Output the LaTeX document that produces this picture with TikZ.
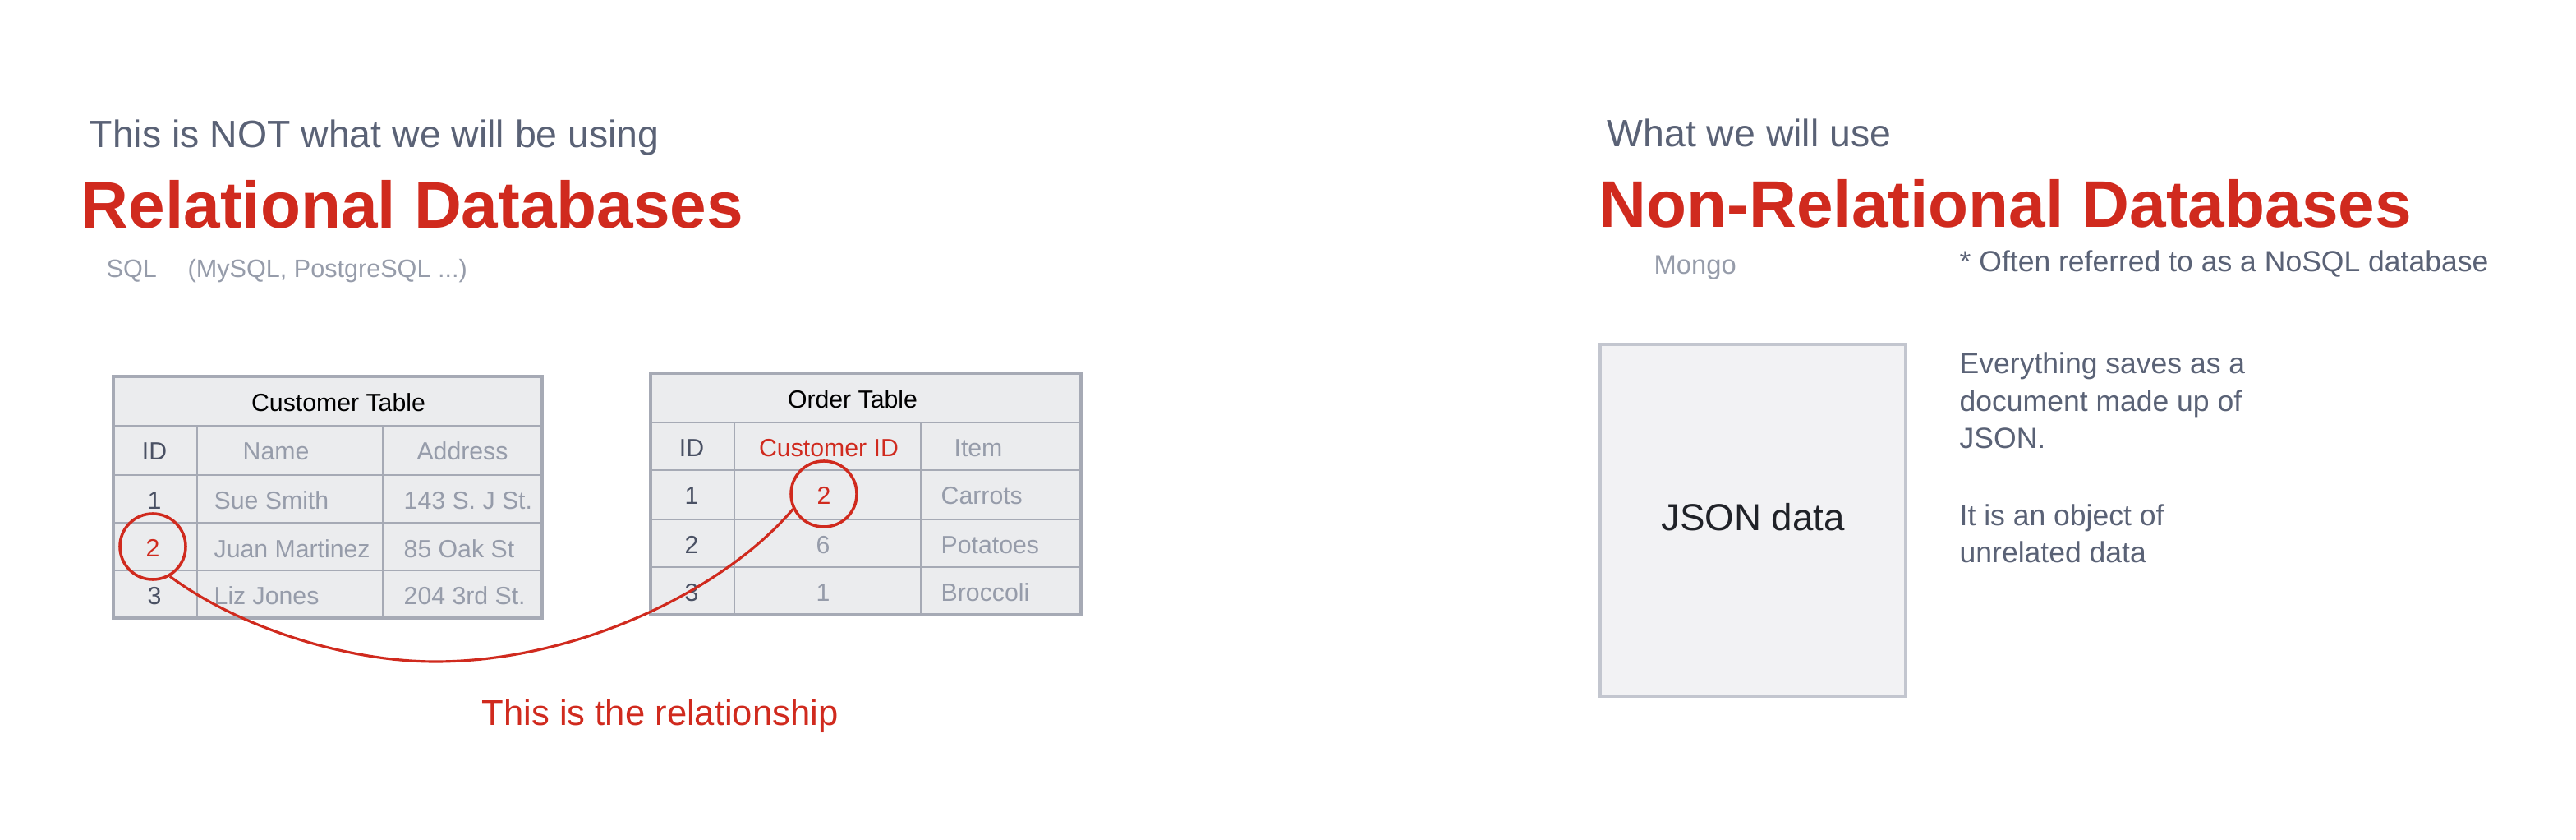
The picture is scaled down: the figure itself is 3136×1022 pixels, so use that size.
\documentclass[tikz,border=0pt]{standalone}
\usepackage{fontspec}
\setmainfont{Liberation Sans}
\usepackage{xcolor}
\definecolor{dbRed}{RGB}{208, 42, 30}
\definecolor{dbSlate}{RGB}{90, 98, 118}
\definecolor{dbMute}{RGB}{150, 156, 170}
\definecolor{dbInk}{RGB}{74, 81, 100}
\definecolor{tblFill}{RGB}{235, 236, 238}
\definecolor{tblLine}{RGB}{166, 170, 181}
\definecolor{jsonFill}{RGB}{242, 242, 244}
\definecolor{jsonLine}{RGB}{195, 198, 207}

\begin{document}
\begin{tikzpicture}[x=0.01cm, y=-0.01cm,
          sub/.style={anchor=base west, inner sep=0pt, text=dbSlate,
                      font=\fontsize{13.2}{15}\selectfont},
          head/.style={anchor=base west, inner sep=0pt, text=dbRed,
                       font=\fontsize{22.8}{27}\selectfont\bfseries},
          tag/.style={anchor=base west, inner sep=0pt, text=dbMute,
                      font=\fontsize{8.7}{10}\selectfont},
          note/.style={anchor=base west, inner sep=0pt, text=dbSlate,
                       font=\fontsize{10.1}{12}\selectfont},
          tblbox/.style={draw=tblLine, fill=tblFill, line width=1pt},
          tblrule/.style={draw=tblLine, line width=0.8pt},
          cell/.style={inner sep=0pt, text height=0.72em, text depth=0pt,
                       font=\fontsize{8.6}{10}\selectfont},
          ring/.style={cell, circle, draw=dbRed, line width=1pt,
                       minimum size=0.8cm, text=dbRed},
          link/.style={draw=dbRed, line width=0.9pt}]
        \fill[white] (0,0) rectangle (3136,1022);
        \useasboundingbox (0,0) rectangle (3136,1022);

        % left half
        \node[sub] (relSub) at (108,180) {This is NOT what we will be using};
        \node[head] (relHead) at (98,278) {Relational Databases};
        \node[tag] (relSql) at (129,338) {SQL};
        \node[tag] (relExamples) at (228,338) {(MySQL, PostgreSQL ...)};

        % customer table
        \draw[tblbox] (138,458) rectangle (660,752);
        \foreach \y in {518,578,636,694}
          \draw[tblrule] (138,\y) -- (660,\y);
        \foreach \x in {240,466}
          \draw[tblrule] (\x,518) -- (\x,752);
        \node[cell, text=black] (custTitle) at (412,488) {Customer Table};
        \node[cell, text=dbInk] (custHdID) at (188,547) {ID};
        \node[cell, text=dbMute] (custHdName) at (336,547) {Name};
        \node[cell, text=dbMute] (custHdAddr) at (563,547) {Address};
        \node[cell, text=dbInk] (cust1) at (188,607) {1};
        \node[cell, text=dbInk] (cust3) at (188,723) {3};
        \foreach \r/\y/\who/\addr in {1/607/Sue Smith/143 S. J St.,
                                      2/666/Juan Martinez/85 Oak St,
                                      3/723/Liz Jones/204 3rd St.} {
          \node[cell, anchor=west, text=dbMute] (custName\r) at (260,\y) {\who};
          \node[cell, anchor=west, text=dbMute] (custAddr\r) at (491,\y) {\addr};
        }

        % order table
        \draw[tblbox] (792,454) rectangle (1316,748);
        \foreach \y in {514,572,632,690}
          \draw[tblrule] (792,\y) -- (1316,\y);
        \foreach \x in {894,1121}
          \draw[tblrule] (\x,514) -- (\x,748);
        \node[cell, text=black] (ordTitle) at (1038,484) {Order Table};
        \node[cell, text=dbInk] (ordHdID) at (842,543) {ID};
        \node[cell, text=dbRed] (ordHdCust) at (1009,543) {Customer ID};
        \node[cell, text=dbMute] (ordHdItem) at (1191,543) {Item};
        \node[cell, text=dbMute] (ordCust2) at (1002,661) {6};
        \node[cell, text=dbMute] (ordCust3) at (1002,719) {1};
        \foreach \r/\y/\item in {1/601/Carrots, 2/661/Potatoes, 3/719/Broccoli} {
          \node[cell, text=dbInk] (ord\r) at (842,\y) {\r};
          \node[cell, anchor=west, text=dbMute] (ordItem\r) at (1145,\y) {\item};
        }

        % the link between the two keys
        \node[ring] (cust2) at (186,665) {2};
        \node[ring] (ordCust1) at (1003,601) {2};
        \draw[link] (cust2.-60) .. controls (288,762) and (420,805) .. (530,805)
                    .. controls (700,805) and (880,720) .. (ordCust1.206);
        \node[anchor=base west, inner sep=0pt, text=dbRed,
              font=\fontsize{12.4}{14}\selectfont] (relLabel) at (586,882)
              {This is the relationship};

        % right half
        \node[sub] (nosqlSub) at (1956,179) {What we will use};
        \node[head] (nosqlHead) at (1946,277) {Non-Relational Databases};
        \node[tag, font=\fontsize{9.3}{11}\selectfont] (nosqlMongo) at (2013,334) {Mongo};
        \node[note] (nosqlAside) at (2385,331) {* Often referred to as a NoSQL database};
        \node[draw=jsonLine, fill=jsonFill, line width=1pt, minimum width=3.72cm,
              minimum height=4.28cm, inner sep=0pt, text height=0.72em, text depth=0pt,
              text={rgb,255:red,32;green,34;blue,40},
              font=\fontsize{13}{15}\selectfont] (json) at (2134,633) {JSON data};
        \foreach \i/\y/\txt in {1/455/Everything saves as a, 2/501/document made up of,
                                3/546/JSON., 4/640/It is an object of,
                                5/685/unrelated data}
          \node[note] (jsonNote\i) at (2385,\y) {\txt};
      \end{tikzpicture}
\end{document}
